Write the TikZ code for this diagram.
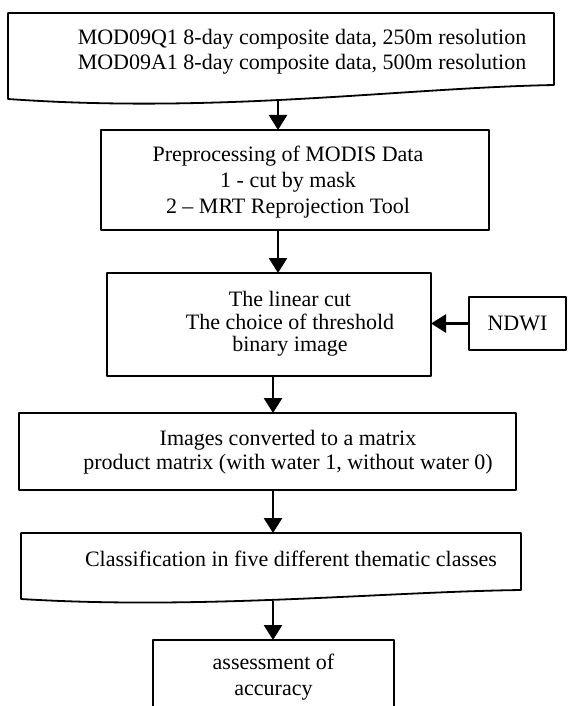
\documentclass[tikz,border=0pt]{standalone}
\usepackage{fontspec}
\setmainfont{Liberation Serif}
\usetikzlibrary{arrows.meta}
\begin{document}
\begin{tikzpicture}[x=1pt, y=-1pt, font=\fontsize{22}{25}\selectfont, line join=round, >={Triangle[width=18pt,length=15pt]},
	frame/.style={draw, line width=1.8pt, inner sep=0pt, outer sep=0pt},
	txt/.style={align=center, inner sep=0pt},
	link/.style={->, line width=2.6pt}]
		\useasboundingbox (0,0) rectangle (568,706);
		\clip (0,0) rectangle (568,706);
		\draw[frame] (8,99) -- (8,13) -- (554,13) -- (554,85) .. controls (400,88) and (220,114) .. (8,99) -- cycle;
		\node[txt] (src) at (302,52) {MOD09Q1 8-day composite data, 250m resolution\\MOD09A1 8-day composite data, 500m resolution};
		\coordinate (srcbot) at (278,100);
		\node[frame, minimum width=388pt, minimum height=100pt] (prep) at (295,180) {};
		\node[txt, font=\fontsize{22}{26}\selectfont] (preptxt) at (288,182) {Preprocessing of MODIS Data\\1 - cut by mask\\2 – MRT Reprojection Tool};
		\node[frame, minimum width=324pt, minimum height=103pt] (lin) at (269,324.5) {};
		\node[txt, font=\fontsize{22}{22.5}\selectfont] (lintxt) at (290,324) {The linear cut\\The choice of threshold\\binary image};
		\node[frame, minimum width=97pt, minimum height=53pt] (ndwi) at (517.5,323.5) {NDWI};
		\node[frame, minimum width=497pt, minimum height=77pt] (mat) at (267.5,451.5) {};
		\node[txt, font=\fontsize{22}{24}\selectfont] (mattxt) at (288,452) {Images converted to a matrix\\product matrix (with water 1, without water 0)};
		\draw[frame] (21,599) -- (21,533) -- (521,533) -- (521,590) .. controls (380,592) and (200,610) .. (21,599) -- cycle;
		\node[txt] (clstxt) at (291,559) {Classification in five different thematic classes};
		\coordinate (clstop) at (273,533);
		\coordinate (clsbot) at (273,601);
		\node[frame, minimum width=241pt, minimum height=75pt, align=center, font=\fontsize{22}{26}\selectfont] (acc) at (273.5,677.5) {assessment of\\accuracy};
		\draw[link] (srcbot) -- (srcbot |- prep.north);
		\draw[link] (prep.south -| srcbot) -- (srcbot |- lin.north);
		\draw[link] (ndwi.west) -- (ndwi.west -| lin.east);
		\draw[link] (lin.south -| clstop) -- (clstop |- mat.north);
		\draw[link] (mat.south -| clstop) -- (clstop);
		\draw[link] (clsbot) -- (clsbot |- acc.north);
\end{tikzpicture}
\end{document}
